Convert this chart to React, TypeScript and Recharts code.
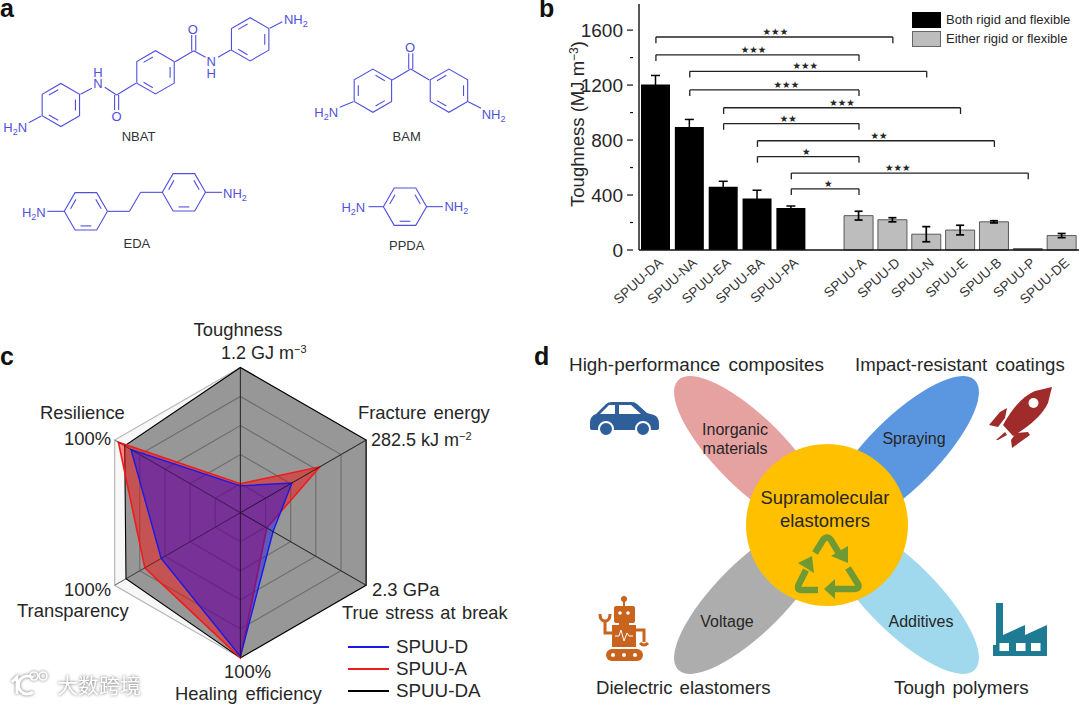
import { Bar, BarChart, ErrorBar, Label, Legend, PolarAngleAxis, PolarGrid, PolarRadiusAxis, Radar, RadarChart, ReferenceLine, XAxis, YAxis } from "recharts"

const FONT = "'Liberation Sans', Arial, sans-serif"
const BLUE = "#5050dc"
const INK = "#262626"

// panel b
const categories = ["SPUU-DA", "SPUU-NA", "SPUU-EA", "SPUU-BA", "SPUU-PA", " ", "SPUU-A", "SPUU-D", "SPUU-N", "SPUU-E", "SPUU-B", "SPUU-P", "SPUU-DE"]
const bothValues = [1205, 895, 460, 375, 305, null, null, null, null, null, null, null, null]
const bothErrors = [65, 55, 40, 60, 15, null, null, null, null, null, null, null, null]
const eitherValues = [null, null, null, null, null, null, 250, 220, 115, 145, 205, 10, 105]
const eitherErrors = [null, null, null, null, null, null, 32, 15, 55, 35, 8, 0, 15]
const yTicks = [0, 200, 400, 600, 800, 1000, 1200, 1400, 1600]

const bracketFrom = ["SPUU-DA", "SPUU-DA", "SPUU-NA", "SPUU-NA", "SPUU-EA", "SPUU-EA", "SPUU-BA", "SPUU-BA", "SPUU-PA", "SPUU-PA"]
const bracketTo = ["SPUU-D", "SPUU-A", "SPUU-N", "SPUU-A", "SPUU-E", "SPUU-A", "SPUU-B", "SPUU-A", "SPUU-P", "SPUU-A"]
const bracketLevel = [1550, 1420, 1300, 1165, 1035, 920, 795, 680, 560, 445]
const bracketStars = ["★★★", "★★★", "★★★", "★★★", "★★★", "★★", "★★", "★", "★★★", "★"]
const starShift = [1, -4, -3, 12, 0, -3, 3, -2, -12, 3]

const barData = categories.map((name, i) => ({
  name,
  both: bothValues[i],
  bothErr: bothErrors[i],
  either: eitherValues[i],
  eitherErr: eitherErrors[i],
}))

// panel c
const axesNames = ["Toughness", "Fracture energy", "True stress at break", "Healing efficiency", "Transparency", "Resilience"]
const frameValues = [100, 100, 100, 100, 100, 100]
const spuuDA = [100, 100, 100, 100, 91, 92]
const spuuA = [20, 63, 21, 100, 76, 97]
const spuuD = [18.5, 41, 26, 99, 63, 87]
const legendOrder = ["SPUU-D", "SPUU-A", "SPUU-DA"]
const RADAR_X = 240.4
const RADAR_Y = 512.7
const RADAR_R = 145.2

const radarData = axesNames.map((axis, i) => ({
  axis,
  frame: frameValues[i],
  da: spuuDA[i],
  a: spuuA[i],
  d: spuuD[i],
}))

const YTick = (p: any) => {
  const v = p.payload.value
  const major = v % 400 === 0
  return (
    <g>
      <line x1={p.x} x2={p.x - (major ? 6 : 3)} y1={p.y} y2={p.y} stroke="#111" strokeWidth={1.2} />
      {major && (
        <text x={p.x - 10} y={p.y + 7} textAnchor="end" fontSize={19} fontFamily={FONT} fill={INK}>
          {v}
        </text>
      )}
    </g>
  )
}

const XTick = (p: any) => (
  <text
    transform={`translate(${p.x + 8},${p.y + 8}) rotate(-42)`}
    textAnchor="end"
    fontSize={13.5}
    fontFamily={FONT}
    fill="#333"
  >
    {p.payload.value}
  </text>
)

const BarLegend = (props: any) => (
  <div style={{ fontFamily: FONT, fontSize: 13, color: INK }}>
    {props.payload.map((e: any) => (
      <div key={e.value} style={{ display: "flex", alignItems: "center", height: 19 }}>
        <span
          style={{
            width: 27,
            height: 14,
            background: e.color,
            border: e.color === "#000" ? "0.5px solid #000" : "1px solid #666",
            marginRight: 5,
            display: "inline-block",
          }}
        />
        {e.value}
      </div>
    ))}
  </div>
)

const RadarLegend = (props: any) => (
  <div style={{ fontFamily: FONT, fontSize: 18.8, color: INK }}>
    {legendOrder.map((name) => {
      const e = props.payload.find((x: any) => x.value === name)
      return (
        <div key={name} style={{ display: "flex", alignItems: "center", height: 22 }}>
          <span style={{ width: 41, height: 2, background: e?.color, marginRight: 7, display: "inline-block" }} />
          {name}
        </div>
      )
    })}
  </div>
)

function ToughnessBars() {
  return (
    <BarChart
      width={540}
      height={320}
      data={barData}
      margin={{ top: 4, right: 1, bottom: 0, left: 0 }}
      barSize={29}
      style={{ position: "absolute", left: 540, top: 0 }}
    >
      <XAxis
        dataKey="name"
        height={70}
        interval={0}
        tickLine={false}
        tickMargin={0}
        tick={XTick}
        axisLine={{ stroke: "#111", strokeWidth: 1.4 }}
      />
      <XAxis xAxisId="top" orientation="top" dataKey="name" height={0} tick={false} tickLine={false} axisLine={{ stroke: "#111", strokeWidth: 1.2 }} />
      <YAxis
        width={99}
        domain={[0, 1790]}
        ticks={yTicks}
        interval={0}
        tickLine={false}
        tickMargin={0}
        tick={YTick}
        axisLine={{ stroke: "#111", strokeWidth: 1.4 }}
      />
      <YAxis yAxisId="right" orientation="right" width={0} domain={[0, 1790]} tick={false} tickLine={false} axisLine={{ stroke: "#111", strokeWidth: 1.2 }} />
      <Bar dataKey="both" name="Both rigid and flexible" stackId="s" fill="#000" isAnimationActive={false}>
        <ErrorBar dataKey="bothErr" width={4.5} stroke="#000" strokeWidth={1.5} direction="y" isAnimationActive={false} />
      </Bar>
      <Bar dataKey="either" name="Either rigid or flexible" stackId="s" fill="#bdbdbd" stroke="#5a5a5a" strokeWidth={1} isAnimationActive={false}>
        <ErrorBar dataKey="eitherErr" width={4} stroke="#000" strokeWidth={1.7} direction="y" isAnimationActive={false} />
      </Bar>
      {bracketFrom.map((from, i) => {
        const to = bracketTo[i]
        const level = bracketLevel[i]
        return [
          <ReferenceLine
            key={`h${i}`}
            segment={[{ x: from, y: level }, { x: to, y: level }]}
            stroke="#222"
            strokeWidth={1.3}
          >
            <Label
              content={(p: any) => (
                <text
                  x={p.viewBox.x + p.viewBox.width / 2 + starShift[i]}
                  y={p.viewBox.y - 2}
                  textAnchor="middle"
                  fontSize={9.5}
                  fontFamily="'DejaVu Sans'"
                  fill={INK}
                >
                  {bracketStars[i]}
                </text>
              )}
            />
          </ReferenceLine>,
          <ReferenceLine key={`l${i}`} segment={[{ x: from, y: level }, { x: from, y: level - 45 }]} stroke="#222" strokeWidth={1.3} />,
          <ReferenceLine key={`r${i}`} segment={[{ x: to, y: level }, { x: to, y: level - 45 }]} stroke="#222" strokeWidth={1.3} />,
        ]
      })}
      <Legend
        layout="vertical"
        align="center"
        verticalAlign="middle"
        content={BarLegend}
        wrapperStyle={{ left: 372, top: 10, width: 170, height: 40 }}
      />
    </BarChart>
  )
}

function PropertyRadar() {
  return (
    <RadarChart
      width={540}
      height={374}
      data={radarData}
      cx={RADAR_X}
      cy={RADAR_Y - 330}
      outerRadius={RADAR_R}
      margin={{ top: 0, right: 0, bottom: 0, left: 0 }}
      style={{ position: "absolute", left: 0, top: 330 }}
    >
      <PolarGrid gridType="polygon" stroke="#000" strokeWidth={1.1} polarRadius={[29, 58.1, 87.1, 116.2]} />
      <PolarAngleAxis dataKey="axis" tick={false} axisLine={false} />
      <PolarRadiusAxis domain={[0, 100]} tick={false} axisLine={false} tickLine={false} />
      <Radar dataKey="frame" name="frame" legendType="none" stroke="#b8b8b8" strokeWidth={1.2} fill="#f4f4f4" fillOpacity={0.72} isAnimationActive={false} dot={false} />
      <Radar dataKey="da" name="SPUU-DA" stroke="#000" strokeWidth={1.1} fill="#000" fillOpacity={0.39} isAnimationActive={false} dot={false} />
      <Radar dataKey="a" name="SPUU-A" stroke="#f01c1c" strokeWidth={1.6} fill="#ff0000" fillOpacity={0.45} isAnimationActive={false} dot={false} />
      <Radar dataKey="d" name="SPUU-D" stroke="#1a1ae6" strokeWidth={1.4} fill="#0000ff" fillOpacity={0.4} isAnimationActive={false} dot={false} />
      <Legend
        layout="vertical"
        align="center"
        verticalAlign="middle"
        content={RadarLegend}
        wrapperStyle={{ left: 348, top: 306, width: 170, height: 66 }}
      />
    </RadarChart>
  )
}

// darker spokes on top of the fills
function Spokes() {
  return (
    <g>
      {axesNames.map((name, i) => {
        const a = ((90 - i * 60) * Math.PI) / 180
        return (
          <line
            key={name}
            x1={RADAR_X}
            y1={RADAR_Y}
            x2={RADAR_X + RADAR_R * Math.cos(a)}
            y2={RADAR_Y - RADAR_R * Math.sin(a)}
            stroke="#111"
            strokeOpacity={i > 3 ? 0.4 : 0.7}
            strokeWidth={1}
          />
        )
      })}
    </g>
  )
}

const zx = (x: number) => x / 2.958
const zy = (y: number) => y / 3

function Ring({ cx, cy, flat, first = 0 }: { cx: number; cy: number; flat?: boolean; first?: number }) {
  const r = 21.6
  const start = flat ? 0 : 30
  const pts = [0, 1, 2, 3, 4, 5].map((k) => {
    const a = ((start + k * 60) * Math.PI) / 180
    return [zx(cx) + r * Math.cos(a), zy(cy) + r * Math.sin(a)]
  })
  return (
    <g>
      <polygon points={pts.map((p) => p.join(",")).join(" ")} fill="none" stroke={BLUE} strokeWidth={1.1} />
      {[0, 2, 4].map((k) => {
        const p = pts[(k + first) % 6]
        const q = pts[(k + first + 1) % 6]
        const c = [zx(cx), zy(cy)]
        const t = 0.78
        const s = 0.18
        const a = [c[0] + (p[0] - c[0]) * t, c[1] + (p[1] - c[1]) * t]
        const b = [c[0] + (q[0] - c[0]) * t, c[1] + (q[1] - c[1]) * t]
        return (
          <line
            key={k}
            x1={a[0] + (b[0] - a[0]) * s}
            y1={a[1] + (b[1] - a[1]) * s}
            x2={b[0] - (b[0] - a[0]) * s}
            y2={b[1] - (b[1] - a[1]) * s}
            stroke={BLUE}
            strokeWidth={1.1}
          />
        )
      })}
    </g>
  )
}

const bonds = [
  [85, 368, 122, 348], [238, 283, 272, 265], [310, 262, 345, 285], [345, 285, 402, 250], [339, 285, 339, 330], [351, 285, 351, 330],
  [518, 185, 573, 152], [567, 152, 567, 105], [579, 152, 579, 105], [573, 152, 608, 172], [645, 172, 682, 150], [798, 85, 835, 65],
  [1005, 322, 1045, 305], [1160, 240, 1215, 207], [1215, 207, 1270, 240], [1209, 207, 1209, 160], [1221, 207, 1221, 160], [1385, 305, 1423, 325],
  [140, 634, 190, 634], [318, 634, 383, 634], [383, 634, 416, 577], [416, 577, 480, 577], [608, 577, 657, 577],
  [1090, 620, 1134, 620], [1262, 620, 1310, 620],
]

const Atom = ({ x, y, t, sub, after }: { x: number; y: number; t: string; sub?: string; after?: string }) => (
  <text x={zx(x)} y={zy(y)} fontSize={13} fontFamily={FONT} fill={BLUE} textAnchor="middle">
    {t}
    {sub && <tspan fontSize={9} dy={3}>{sub}</tspan>}
    {after && <tspan dy={sub ? -3 : 0}>{after}</tspan>}
  </text>
)

// N and H stacked in one text
const Amide = ({ x, y, lines }: { x: number; y: number; lines: string[] }) => (
  <text fontSize={13} fontFamily={FONT} fill={BLUE} textAnchor="middle">
    {lines.map((t, i) => (
      <tspan key={i} x={zx(x)} y={zy(y) + i * 11.7}>
        {t}
      </tspan>
    ))}
  </text>
)

function Molecules() {
  return (
    <g>
      <Ring cx={180} cy={315} first={1} />
      <Ring cx={460} cy={217} first={1} />
      <Ring cx={740} cy={118} first={1} />
      <Ring cx={1103} cy={272} first={0} />
      <Ring cx={1328} cy={272} first={1} />
      <Ring cx={254} cy={634} flat first={1} />
      <Ring cx={544} cy={577} flat first={1} />
      <Ring cx={1198} cy={620} flat first={1} />
      {bonds.map((b, i) => (
        <line key={i} x1={zx(b[0])} y1={zy(b[1])} x2={zx(b[2])} y2={zy(b[3])} stroke={BLUE} strokeWidth={1.1} />
      ))}
      <Atom x={45} y={396} t="H" sub="2" after="N" />
      <Amide x={290} y={230} lines={["H", "N"]} />
      <Atom x={345} y={364} t="O" />
      <Atom x={570} y={102} t="O" />
      <Amide x={625} y={199} lines={["N", "H"]} />
      <Atom x={875} y={72} t="NH" sub="2" />
      <Atom x={1213} y={157} t="O" />
      <Atom x={965} y={352} t="H" sub="2" after="N" />
      <Atom x={1460} y={356} t="NH" sub="2" />
      <Atom x={100} y={650} t="H" sub="2" after="N" />
      <Atom x={695} y={594} t="NH" sub="2" />
      <Atom x={1045} y={636} t="H" sub="2" after="N" />
      <Atom x={1350} y={634} t="NH" sub="2" />
      {[["NBAT", 410, 424], ["BAM", 1203, 424], ["EDA", 405, 745], ["PPDA", 1203, 749]].map(([t, x, y]) => (
        <text key={t as string} x={zx(x as number)} y={zy(y as number)} fontSize={13} fontFamily={FONT} fill="#333" textAnchor="middle">
          {t}
        </text>
      ))}
    </g>
  )
}

const T = (p: any) => (
  <text fontFamily={FONT} fontSize={p.size ?? 18.4} fill={p.fill ?? INK} textAnchor={p.anchor ?? "start"} x={p.x} y={p.y} wordSpacing={p.ws}>
    {p.children}
  </text>
)

function RadarLabels() {
  return (
    <g>
      <T x={238} y={336} anchor="middle">Toughness</T>
      <T x={221} y={359} size={18}>1.2 GJ m<tspan fontSize={11} dy={-6}>−3</tspan></T>
      <T x={40} y={419}>Resilience</T>
      <T x={64} y={445}>100%</T>
      <T x={358} y={419} ws={2}>Fracture energy</T>
      <T x={371} y={446} size={18}>282.5 kJ m<tspan fontSize={11} dy={-6}>−2</tspan></T>
      <T x={64} y={596}>100%</T>
      <T x={17} y={617}>Transparency</T>
      <T x={372} y={596}>2.3 GPa</T>
      <T x={342} y={619} ws={1.5} size={18.2}>True stress at break</T>
      <T x={224} y={678}>100%</T>
      <T x={175} y={700} ws={3}>Healing efficiency</T>
    </g>
  )
}

function Watermark() {
  return (
    <g style={{ filter: "drop-shadow(0 0 1.5px #6f6f6f)" }} fill="#fff">
      <text x={57} y={693} fontSize={21} fontFamily="'Noto Sans CJK SC'" fill="#fff">大数跨境</text>
      <path d="M12 682 L17 677 V694" fill="none" stroke="#fff" strokeWidth={3} />
      <path d="M33 678 A9 9 0 1 0 33 692" fill="none" stroke="#fff" strokeWidth={3} />
      <circle cx={34} cy={676} r={4} fill="none" stroke="#fff" strokeWidth={1.6} />
      <circle cx={43} cy={676} r={4} fill="none" stroke="#fff" strokeWidth={1.6} />
    </g>
  )
}

function Applications() {
  return (
    <g>
      <ellipse cx={751} cy={453} rx={103} ry={35} transform="rotate(45 751 453)" fill="#e6a1a1" />
      <ellipse cx={902} cy={453} rx={103} ry={35} transform="rotate(-45 902 453)" fill="#5b97e0" />
      <ellipse cx={751} cy={597} rx={103} ry={35} transform="rotate(-45 751 597)" fill="#adadad" />
      <ellipse cx={902} cy={597} rx={103} ry={35} transform="rotate(45 902 597)" fill="#a0d9ee" />
      <circle cx={827} cy={525} r={81} fill="#ffc000" />

      <T x={569} y={371} ws={3} size={18.9}>High-performance composites</T>
      <T x={855} y={371} ws={3} size={18.6}>Impact-resistant coatings</T>
      <T x={596} y={694} ws={2} size={18.6}>Dielectric elastomers</T>
      <T x={894} y={694} ws={2} size={18.8}>Tough polymers</T>
      <T x={735} y={435} anchor="middle" size={16}>Inorganic</T>
      <T x={735} y={454} anchor="middle" size={16}>materials</T>
      <T x={914} y={444} anchor="middle" size={16}>Spraying</T>
      <T x={825} y={504} anchor="middle" size={18.4}>Supramolecular</T>
      <T x={825} y={527} anchor="middle" size={18.4}>elastomers</T>
      <T x={727} y={627} anchor="middle" size={16}>Voltage</T>
      <T x={921} y={627} anchor="middle" size={16}>Additives</T>

      {/* recycle arrows */}
      <g fill="none" stroke="#6f9a33" strokeWidth={6.5}>
        <path d="M815 553 L823 540 Q827 535 831 540 L840 555" />
        <path d="M848 568 L858 584 Q860 589 854 589 L834 589" />
        <path d="M818 590 H802 Q796 590 799 584 L806 570" />
      </g>
      <g fill="#6f9a33">
        <polygon points="848,563 831,556 848,546" />
        <polygon points="824,589 835,579 835,599" />
        <polygon points="812,556 814,573 798,563" />
      </g>

      {/* car */}
      <path
        d="M590 423 Q590 416 596 414 L606 404 Q608 402 612 402 H632 Q635 402 637 404 L647 413 L654 415 Q659 417 659 424 V428 Q659 430 656 430 H592 Q590 430 590 428 Z"
        fill="#2f5f9b"
      />
      <path d="M600 414 L609 405 H615 V414 Z M619 405 H631 L641 414 H619 Z" fill="#fff" />
      <circle cx={606} cy={429} r={7} fill="#2f5f9b" stroke="#fff" strokeWidth={2} />
      <circle cx={643} cy={429} r={7} fill="#2f5f9b" stroke="#fff" strokeWidth={2} />

      {/* rocket */}
      <g fill="#a02b2b">
        <path d="M1052 387 L1048 403 Q1040 420 1013 436 L1003 425 Q1018 398 1035 391 Z" />
        <polygon points="989,425 1000,412 1007,408 1005,418 998,427" />
        <polygon points="1012,448 1030,435 1028,432 1016,433 1011,440" />
        <polygon points="996,440 1005,432 1007,435 998,440" />
      </g>
      <circle cx={1033.5} cy={403} r={5} fill="#fff" />

      {/* robot */}
      <g fill="#c8641e">
        <circle cx={624} cy={599} r={3} />
        <rect x={623} y={600} width={2} height={7} />
        <rect x={614} y={606} width={21} height={17} rx={2} />
        <rect x={619} y={623} width={10} height={3} />
        <rect x={612} y={625} width={24} height={22} />
        <rect x={606} y={649} width={37} height={12} rx={6} />
      </g>
      <circle cx={620} cy={613} r={1.8} fill="#fff" />
      <circle cx={628} cy={613} r={1.8} fill="#fff" />
      <polyline points="615,636 619,636 621,630 624,641 627,633 629,636 633,636" fill="none" stroke="#fff" strokeWidth={1} />
      <circle cx={613} cy={655} r={2} fill="#fff" />
      <circle cx={624} cy={655} r={2} fill="#fff" />
      <circle cx={635} cy={655} r={2} fill="#fff" />
      <path d="M612 633 H605 V620 M600 614 Q600 621 605 621 Q610 621 610 614 M636 630 H644 V642" fill="none" stroke="#c8641e" strokeWidth={3} />
      <path d="M640 643 Q644 647 648 643" fill="none" stroke="#c8641e" strokeWidth={3} />

      {/* factory */}
      <path d="M996 603 H1003 V635 L1025 625 V635 L1047 625 V656 H993 V645 H996 Z" fill="#1f7a94" />
      <rect x={999.5} y={643} width={9.5} height={8} fill="#fff" />
      <rect x={1016} y={643} width={9.5} height={8} fill="#fff" />
      <rect x={1031} y={643} width={9.5} height={8} fill="#fff" />
    </g>
  )
}

export default function App() {
  return (
    <div style={{ position: "absolute", left: 0, top: 0, width: 1080, height: 704, background: "#fff", overflow: "hidden" }}>
      <ToughnessBars />
      <PropertyRadar />
      <svg width={1080} height={704} style={{ position: "absolute", left: 0, top: 0, pointerEvents: "none" }}>
        <text x={0} y={17} fontSize={25} fontWeight="bold" fontFamily={FONT} fill="#111">a</text>
        <text x={539} y={17} fontSize={25} fontWeight="bold" fontFamily={FONT} fill="#111">b</text>
        <text x={0} y={365} fontSize={25} fontWeight="bold" fontFamily={FONT} fill="#111">c</text>
        <text x={534} y={365} fontSize={25} fontWeight="bold" fontFamily={FONT} fill="#111">d</text>
        <text
          transform="translate(584,124) rotate(-90)"
          textAnchor="middle"
          fontSize={18.5}
          fontFamily={FONT}
          fill={INK}
        >
          Toughness (MJ m<tspan fontSize={12} dy={-6}>−3</tspan><tspan dy={6}>)</tspan>
        </text>
        <Spokes />
        <Molecules />
        <RadarLabels />
        <Applications />
        <Watermark />
      </svg>
    </div>
  )
}
